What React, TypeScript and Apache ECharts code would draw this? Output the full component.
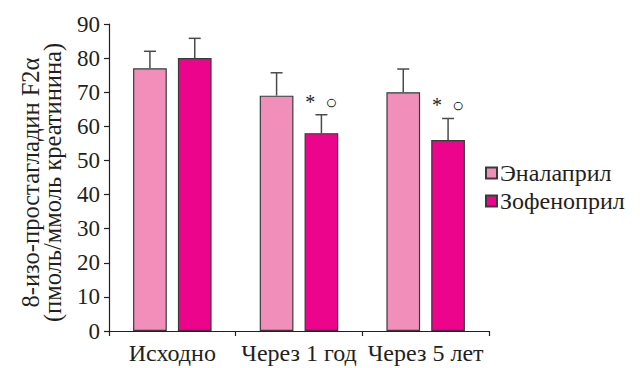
import React, { useEffect, useRef } from "react";
import * as echarts from "echarts";

const categories = ["Исходно", "Через 1 год", "Через 5 лет"];
const seriesNames = ["Эналаприл", "Зофеноприл"];
const enalaprilValues = [77, 69, 70];
const enalaprilErrors = [5, 6.7, 6.8];
const zofenoprilValues = [80, 58, 56];
const zofenoprilErrors = [5.8, 5.4, 6.3];
const zofenoprilMarks = ["", "*  ○", "*  ○"];
const yTicks = [0, 10, 20, 30, 40, 50, 60, 70, 80, 90];

const FONT = "Liberation Serif";
const BAR_GAP = 0.33;
const CAT_GAP = 0.38;

function errorSeries(values: number[], errors: number[], marks: string[], index: number) {
  return {
    type: "custom",
    name: seriesNames[index] + " SD",
    silent: true,
    z: 5,
    data: values.map((v, i) => [i, v, v + errors[i], marks[i]]),
    renderItem: (params: any, api: any) => {
      const band = api.size([1, 0])[0];
      const w = (band * (1 - CAT_GAP)) / (2 + BAR_GAP);
      const off = ((w + w * BAR_GAP) / 2) * (index === 0 ? -1 : 1);
      const base = api.coord([api.value(0), api.value(1)]);
      const top = api.coord([api.value(0), api.value(2)]);
      const x = base[0] + off;
      const style = { stroke: "#4a4a4a", lineWidth: 1.5 };
      const children: any[] = [
        { type: "line", shape: { x1: x, y1: base[1], x2: x, y2: top[1] }, style },
        { type: "line", shape: { x1: x - 6, y1: top[1], x2: x + 6, y2: top[1] }, style },
      ];
      const mark = marks[params.dataIndex];
      if (mark) {
        children.push({
          type: "text",
          x: x,
          y: top[1] - 13,
          style: {
            text: mark,
            fill: "#231f20",
            fontFamily: FONT,
            fontSize: 20,
            align: "center",
            verticalAlign: "middle",
          },
        });
      }
      return { type: "group", children };
    },
  };
}

export default function App() {
  const ref = useRef<HTMLDivElement>(null);
  useEffect(() => {
    if (!ref.current) return;
    const chart = echarts.init(ref.current, undefined, { renderer: "svg" });
    chart.setOption({
      animation: false,
      backgroundColor: "#ffffff",
      textStyle: { fontFamily: FONT, color: "#231f20" },
      grid: { left: 109, right: 151, top: 24, bottom: 37 },
      legend: {
        orient: "vertical",
        left: 480,
        top: 156,
        itemWidth: 11,
        itemHeight: 11,
        itemGap: 4,
        icon: "rect",
        data: seriesNames,
        textStyle: { fontFamily: FONT, fontSize: 24, color: "#231f20", padding: [0, 0, 0, -2] },
      },
      xAxis: {
        type: "category",
        data: categories,
        axisLine: { lineStyle: { color: "#231f20", width: 1.2 } },
        axisTick: { show: true, length: 5, lineStyle: { color: "#231f20", width: 1.2 } },
        axisLabel: { interval: 0, fontFamily: FONT, fontSize: 24, color: "#231f20", margin: 10 },
      },
      yAxis: {
        type: "value",
        min: yTicks[0],
        max: yTicks[yTicks.length - 1],
        interval: 10,
        name: "8-изо-простагладин F2α\n(пмоль/ммоль креатинина)",
        nameLocation: "middle",
        nameRotate: 90,
        nameGap: 46,
        nameTextStyle: {
          fontFamily: FONT,
          fontSize: 24.5,
          color: "#231f20",
          lineHeight: 22,
          padding: [0, 10, 0, 0],
        },
        splitLine: { show: false },
        axisLine: { show: true, lineStyle: { color: "#231f20", width: 1.2 } },
        axisTick: { show: true, length: 5, lineStyle: { color: "#231f20", width: 1.2 } },
        axisLabel: { fontFamily: FONT, fontSize: 23, color: "#231f20", margin: 9 },
      },
      series: [
        {
          type: "bar",
          name: seriesNames[0],
          data: enalaprilValues,
          barGap: BAR_GAP * 100 + "%",
          barCategoryGap: CAT_GAP * 100 + "%",
          itemStyle: { color: "#f18fba", borderColor: "#3a3a3a", borderWidth: 1.2 },
        },
        {
          type: "bar",
          name: seriesNames[1],
          data: zofenoprilValues,
          barGap: BAR_GAP * 100 + "%",
          barCategoryGap: CAT_GAP * 100 + "%",
          itemStyle: { color: "#ec058c", borderColor: "#3a3a3a", borderWidth: 1.2 },
        },
        errorSeries(enalaprilValues, enalaprilErrors, ["", "", ""], 0),
        errorSeries(zofenoprilValues, zofenoprilErrors, zofenoprilMarks, 1),
      ],
    });
    return () => chart.dispose();
  }, []);
  return <div ref={ref} style={{ width: 640, height: 368, marginLeft: -8, marginTop: -8 }} />;
}
